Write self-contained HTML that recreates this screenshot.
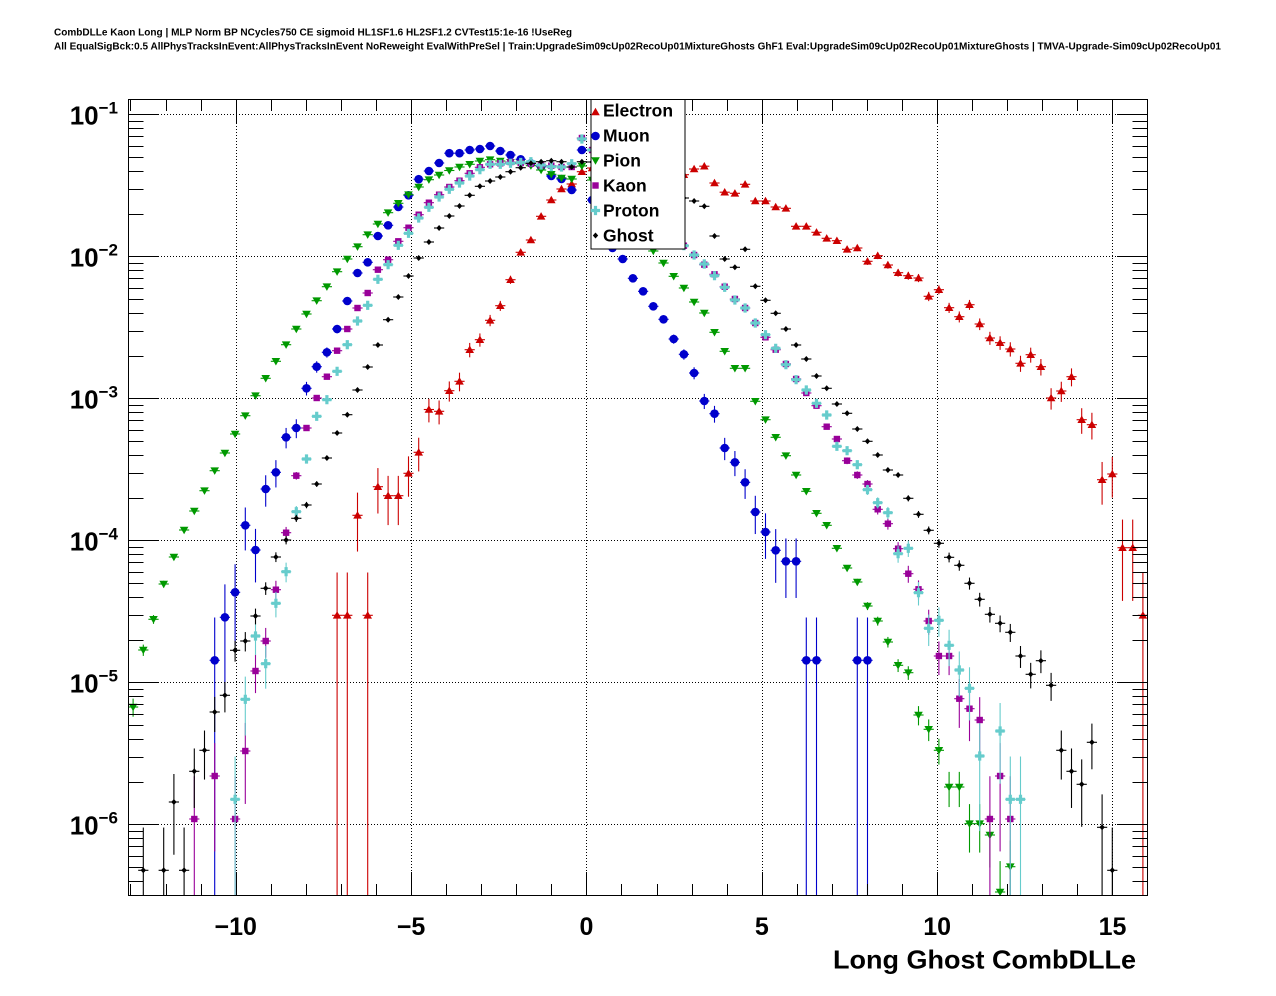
<!DOCTYPE html>
<html><head><meta charset="utf-8">
<style>
html,body{margin:0;padding:0;background:#fff;}
svg{display:block;}
text{font-family:"Liberation Sans",Arial,sans-serif;font-weight:bold;fill:#000;}
</style></head>
<body>
<svg id="s" width="1276" height="996" viewBox="0 0 1276 996" xmlns="http://www.w3.org/2000/svg">
<defs><clipPath id="clp"><rect x="128" y="99" width="1020" height="797"/></clipPath></defs>
<rect x="0" y="0" width="1276" height="996" fill="#fff"/>
<text x="54" y="35.5" font-size="10" textLength="518" lengthAdjust="spacingAndGlyphs">CombDLLe Kaon Long | MLP Norm BP NCycles750 CE sigmoid HL1SF1.6 HL2SF1.2 CVTest15:1e-16 !UseReg</text>
<text x="54" y="49.5" font-size="10" textLength="1167" lengthAdjust="spacingAndGlyphs">All EqualSigBck:0.5 AllPhysTracksInEvent:AllPhysTracksInEvent NoReweight EvalWithPreSel | Train:UpgradeSim09cUp02RecoUp01MixtureGhosts GhF1 Eval:UpgradeSim09cUp02RecoUp01MixtureGhosts | TMVA-Upgrade-Sim09cUp02RecoUp01</text>
<g id="grid" stroke="#000" stroke-width="1" stroke-dasharray="1,2" fill="none"></g>
<g id="data" clip-path="url(#clp)"></g>
<g id="axes" stroke="#000" stroke-width="1" fill="none"></g>
<rect x="128.5" y="99.5" width="1019" height="796" fill="none" stroke="#000" stroke-width="1"/>
<g id="legend">
<rect x="591" y="99.5" width="94" height="149.5" fill="#fff" stroke="#000" stroke-width="1"/>
<g id="legm"></g>
<text x="603" y="116.7" font-size="17.5">Electron</text>
<text x="603" y="141.7" font-size="17.5">Muon</text>
<text x="603" y="166.7" font-size="17.5">Pion</text>
<text x="603" y="191.7" font-size="17.5">Kaon</text>
<text x="603" y="216.7" font-size="17.5">Proton</text>
<text x="603" y="241.7" font-size="17.5">Ghost</text>
</g>
<g id="ylab" font-size="26">
<text x="118" y="124.5" text-anchor="end">10<tspan dy="-11" font-size="17">−1</tspan></text>
<text x="118" y="266.5" text-anchor="end">10<tspan dy="-11" font-size="17">−2</tspan></text>
<text x="118" y="408.5" text-anchor="end">10<tspan dy="-11" font-size="17">−3</tspan></text>
<text x="118" y="550.5" text-anchor="end">10<tspan dy="-11" font-size="17">−4</tspan></text>
<text x="118" y="692.5" text-anchor="end">10<tspan dy="-11" font-size="17">−5</tspan></text>
<text x="118" y="834.5" text-anchor="end">10<tspan dy="-11" font-size="17">−6</tspan></text>
</g>
<g id="xlab" font-size="25" text-anchor="middle">
<text x="235.7" y="935">−10</text>
<text x="411.1" y="935">−5</text>
<text x="586.4" y="935">0</text>
<text x="761.8" y="935">5</text>
<text x="937.1" y="935">10</text>
<text x="1112.5" y="935">15</text>
</g>
<text x="1136" y="968.3" font-size="26" text-anchor="end" textLength="303" lengthAdjust="spacingAndGlyphs">Long Ghost CombDLLe</text>
</svg>
<script>
(function(){
const NS='http://www.w3.org/2000/svg';
const S=142, X0=133.1, DX=10.2;
function el(tag,attrs,parent){const e=document.createElementNS(NS,tag);for(const k in attrs)e.setAttribute(k,attrs[k]);parent.appendChild(e);return e;}
function mk(type,x,y,c,g){
 switch(type){
  case 'tu': el('polygon',{points:(x-4.3)+','+(y+3.3)+' '+(x+4.3)+','+(y+3.3)+' '+x+','+(y-4.2),fill:c},g);break;
  case 'c': el('circle',{cx:x,cy:y,r:4.3,fill:c},g);break;
  case 'td': el('polygon',{points:(x-4.3)+','+(y-3.3)+' '+(x+4.3)+','+(y-3.3)+' '+x+','+(y+4.2),fill:c},g);break;
  case 's': el('rect',{x:x-3.2,y:y-3.2,width:6.4,height:6.4,fill:c},g);break;
  case 'x': {const a=4.6,b=1.6;
    el('path',{d:'M'+(x-b)+','+(y-a)+'h'+(2*b)+'v'+(a-b)+'h'+(a-b)+'v'+(2*b)+'h'+(-(a-b))+'v'+(a-b)+'h'+(-2*b)+'v'+(-(a-b))+'h'+(-(a-b))+'v'+(-2*b)+'h'+(a-b)+'z',fill:c},g);break;}
  case 'd': el('polygon',{points:x+','+(y-3)+' '+(x+2.7)+','+y+' '+x+','+(y+3)+' '+(x-2.7)+','+y,fill:c},g);break;
 }
}
const N=null;
const SERIES=[
 {c:'#cc0000',m:'tu',y1:615.3,s:20,v:[615.3,615.3,515.3,615.3,486.7,495.7,495.7,473.3,452.3,409.5,
  411.3,390.7,381.3,349.7,339.7,320.3,305.7,279.7,252.3,240,
  216.3,200,189,184,171.7,168,166,165,166,168,
  170,171,172,173,174.7,169,166.2,183,192.2,193.3,
  184.3,201,201,207,208.3,226.3,226.3,232.3,238.3,240.7,
  249.3,248,261.3,255.7,265,272.7,275.7,278,296.3,289.7,
  307.7,316.7,304.7,324,338,342.7,349,363.3,354.7,366.7,
  398,391,376.7,419.7,424.7,479.7,474,547.7,547.7,615.3]},
 {c:'#0000cc',m:'c',y1:660.3,s:8,v:[660.3,617.3,592.3,525.3,550,489,472.3,437.3,428,388.3,
  366.7,352.3,329,301,273,262.3,236,225.3,207,195.3,
  179.2,171,163,153.2,153.2,150,149,146,151,155,
  159.3,163.3,166.7,176,179,190,150,200,225,248,
  259,278.3,291.3,306.3,319.3,339,354.3,373,401,413.7,
  448,462.3,482.3,512,532,550.3,561.3,561.3,660.3,660.3,
  N,N,N,660.3,660.3]},
 {c:'#009900',m:'td',y1:945,s:0,v:[707,650,619.3,584,557,530,511,490.7,470.7,453,
  434,415.7,395.7,378.3,361.3,344.7,329,314,300.7,286.7,
  271.7,259,246.7,234.7,224,212.7,203.3,194.7,187,179.7,
  175,170.5,167,164.3,161,159.7,161,162.3,163.7,165.7,
  170,174.3,178,179,166,180,190,200,212,225,
  238,251,263,276.3,288,302,313,332.3,351.3,368.3,
  368.3,401.3,419.7,437.3,455.7,475,491.3,513.3,525.3,548.3,
  568,582,606,621,642,665.3,672.7,715,729.3,750.3,
  787,787,823.7,823.7,835,892,866.7]},
 {c:'#990099',m:'s',y1:819,s:6,v:[819,N,776,N,819,751,671,641,589.7,532.7,
  475.7,428,398,376.7,350.7,329,308,293,269.7,259.7,
  241.3,227.7,214.7,202.7,194.7,187,180.7,173.3,167.3,164.3,
  163.3,162,163,163.7,165.3,165.7,167,167,138,150,
  165,180,192,203,213,222,230,238,245.7,255,
  264.7,274.3,286.7,299,308,323,337.3,349.7,364,379,
  393,405.7,426.7,439,460.7,475,484,509.3,523.7,548.7,
  573.7,589.3,621,656,656,698.7,708.7,720,819,776,819]},
 {c:'#66cccc',m:'x',y1:799.3,s:10,v:[799.3,699.3,636,663.7,603.3,571.7,511.7,459,416.3,399.7,
  371.3,344.7,321,305.3,279.3,264.7,245.3,233.3,218,207.3,
  197,189.3,183,176,169.7,164.3,164.3,163.3,162.5,161.7,
  165,166.7,167,163.7,139,150,165,180,192,203,
  213,222,230,238,245.7,255,264,275.7,287.3,300,
  308,323,334.7,348.3,364.7,379.7,390,403.3,415,446.3,
  450.7,464.7,489.7,502.7,512.7,553.7,548.3,592.7,628.3,620.3,
  645.3,670,688.3,756,N,731,799.3,799.3]},
 {c:'#000000',m:'d',y1:870.3,s:1,v:[870.3,N,870.3,802,870.3,771.3,750.3,712,695.3,650.3,
  641,616,588.3,557,540,518.3,505,484,458,433,
  414.7,390,367,345,319.7,297,276,258,242,228,
  216,206,195.3,186.3,181,177,171.7,167.7,163.3,161.7,
  160.7,161.7,167,161.7,162,165,168,172,176,180,
  185,190,195,198,201,206.3,236,259,267.3,249.3,
  286.3,300.3,313.3,329,345,359,376,388.3,404,413.3,
  429,441.3,455,470,475,498.3,514.3,530.3,543.3,557.3,
  565.3,583.3,599.3,614.3,623.3,632.3,656,674.3,660.7,685.3,
  750.3,771.3,784.3,742.3,827.3,870.3]}
];
const data=document.getElementById('data');
SERIES.forEach(function(s){
 const g=el('g',{},data);
 s.v.forEach(function(y,k){
  if(y==null)return;
  const i=s.s+k, x=X0+i*DX;
  const n=Math.pow(10,(s.y1-y)/S);
  const up=y-S*Math.log10(1+1/Math.sqrt(n));
  const lo=(n<=1.0001)?905:y-S*Math.log10(1-1/Math.sqrt(n));
  el('line',{x1:x-5.1,x2:x+5.1,y1:y,y2:y,stroke:s.c,'stroke-width':1.1},g);
  el('line',{x1:x,x2:x,y1:up,y2:lo,stroke:s.c,'stroke-width':1.1},g);
  mk(s.m,x,y,s.c,g);
 });
});
const grid=document.getElementById('grid');
function xv(v){return 586.4+35.07*v;}
[-10,-5,0,5,10,15].forEach(function(v){const x=Math.round(xv(v))+0.5;el('line',{x1:x,x2:x,y1:99,y2:896},grid);});
const dec=[114.3,256.3,398.3,540.3,682.3,824.3];
dec.forEach(function(y){const yy=Math.round(y)+0.5;el('line',{x1:128,x2:1148,y1:yy,y2:yy},grid);});
const ax=document.getElementById('axes');
let d='';
for(let v=-13;v<=16;v++){
 const x=Math.round(xv(v))+0.5; if(x<128||x>1148)continue;
 const L=(v%5===0)?24:12;
 d+='M'+x+',896V'+(896-L)+'M'+x+',99V'+(99+L);
}
for(let k=0;k<7;k++){
 const yd=114.3+k*S;
 for(let m=1;m<=9;m++){
  const y=yd-S*Math.log10(m);
  if(y<99||y>896)continue;
  const yy=Math.round(y)+0.5;
  const L=(m===1)?31:15.5;
  d+='M128,'+yy+'H'+(128+L)+'M1148,'+yy+'H'+(1148-L);
 }
}
el('path',{d:d},ax);
const lg=document.getElementById('legm');
mk('tu',595.5,112,'#cc0000',lg);
mk('c',595.5,136,'#0000cc',lg);
mk('td',595.5,160.5,'#009900',lg);
mk('s',595.5,185.5,'#990099',lg);
mk('x',595.5,210.5,'#66cccc',lg);
mk('d',595.5,235.5,'#000000',lg);
})();
</script>
</body></html>
